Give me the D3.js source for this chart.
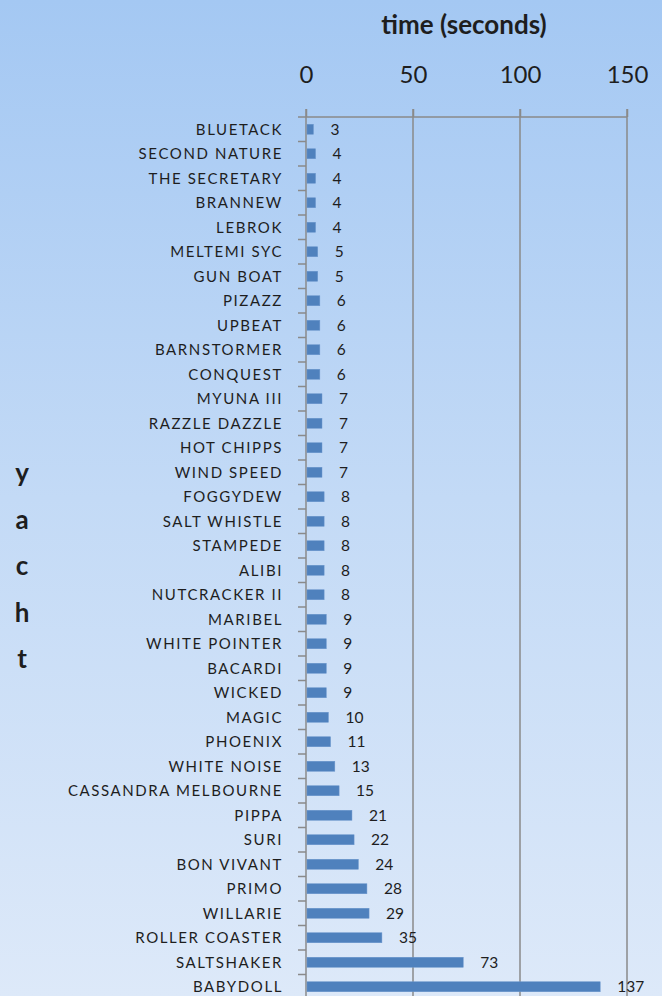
<!DOCTYPE html>
<html>
<head>
<meta charset="utf-8">
<script src="https://cdn.jsdelivr.net/npm/d3@7"></script>
<style>
  html, body { margin: 0; padding: 0; }
  svg { display: block; }
</style>
</head>
<body>
<svg id="chart"></svg>
<script>
// data
var yachts = ["BLUETACK", "SECOND NATURE", "THE SECRETARY", "BRANNEW", "LEBROK", "MELTEMI SYC",
  "GUN BOAT", "PIZAZZ", "UPBEAT", "BARNSTORMER", "CONQUEST", "MYUNA III", "RAZZLE DAZZLE",
  "HOT CHIPPS", "WIND SPEED", "FOGGYDEW", "SALT WHISTLE", "STAMPEDE", "ALIBI", "NUTCRACKER II",
  "MARIBEL", "WHITE POINTER", "BACARDI", "WICKED", "MAGIC", "PHOENIX", "WHITE NOISE",
  "CASSANDRA MELBOURNE", "PIPPA", "SURI", "BON VIVANT", "PRIMO", "WILLARIE", "ROLLER COASTER",
  "SALTSHAKER", "BABYDOLL"];
var times = [3, 4, 4, 4, 4, 5, 5, 6, 6, 6, 6, 7, 7, 7, 7, 8, 8, 8, 8, 8,
  9, 9, 9, 9, 10, 11, 13, 15, 21, 22, 24, 28, 29, 35, 73, 137];
var xTicks = [0, 50, 100, 150];
var xTitle = "time (seconds)";
var yTitle = "yacht";

var width = 662, height = 996;
var font = "Lato, 'Open Sans', sans-serif";
var ink = "#1e1e1e";
var gridCol = "#8a8a8a";

var svg = d3.select("#chart")
    .attr("width", width)
    .attr("height", height);

var grad = svg.append("defs").append("linearGradient")
    .attr("id", "bg")
    .attr("x1", 0).attr("y1", 0).attr("x2", 0).attr("y2", 1);
grad.append("stop").attr("offset", "0%").attr("stop-color", "#a4c8f3");
grad.append("stop").attr("offset", "50%").attr("stop-color", "#c3daf6");
grad.append("stop").attr("offset", "100%").attr("stop-color", "#dde9f9");

svg.append("rect")
    .attr("width", width)
    .attr("height", height)
    .attr("fill", "url(#bg)");

var x = d3.scaleLinear()
    .domain([0, 150])
    .range([306, 627]);

var y = d3.scaleBand()
    .domain(yachts)
    .range([117, 999]);

// grid lines (these double as the top axis ticks)
svg.append("g")
  .selectAll("line")
  .data(xTicks.slice(1))
  .enter().append("line")
    .attr("x1", d => x(d)).attr("x2", d => x(d))
    .attr("y1", 109).attr("y2", 999)
    .attr("stroke", gridCol)
    .attr("stroke-width", 1.5);

// top axis
var xAxis = svg.append("g")
    .attr("transform", "translate(0,117)")
    .call(d3.axisTop(x).tickValues(xTicks).tickSize(8).tickPadding(26));
xAxis.select(".domain").remove();
xAxis.selectAll(".tick line").attr("stroke", gridCol).attr("stroke-width", 1.5);
xAxis.selectAll(".tick text")
    .attr("fill", ink)
    .style("font-family", font)
    .style("font-size", "24px");

svg.append("line")
    .attr("x1", 298).attr("x2", x(150))
    .attr("y1", 117).attr("y2", 117)
    .attr("stroke", gridCol).attr("stroke-width", 1.5);

// left axis: line and ticks between categories
svg.append("line")
    .attr("x1", x(0)).attr("x2", x(0))
    .attr("y1", 109).attr("y2", 999)
    .attr("stroke", gridCol).attr("stroke-width", 1.5);

svg.append("g")
  .selectAll("line")
  .data(yachts)
  .enter().append("line")
    .attr("x1", 298).attr("x2", x(0))
    .attr("y1", d => y(d) + y.bandwidth()).attr("y2", d => y(d) + y.bandwidth())
    .attr("stroke", gridCol).attr("stroke-width", 1.5);

// bars
var barH = 10;
svg.append("g")
  .selectAll("rect")
  .data(yachts)
  .enter().append("rect")
    .attr("x", x(0) + 1)
    .attr("y", d => y(d) + y.bandwidth() / 2 - barH / 2)
    .attr("width", (d, i) => x(times[i]) - x(0))
    .attr("height", barH)
    .attr("fill", "#4f81bd")
    .attr("stroke", "#6a95cc")
    .attr("stroke-width", 0.5);

// value labels
svg.append("g")
  .selectAll("text")
  .data(yachts)
  .enter().append("text")
    .attr("x", (d, i) => x(times[i]) + 18)
    .attr("y", d => y(d) + y.bandwidth() / 2)
    .attr("dy", "0.36em")
    .attr("fill", ink)
    .style("font-family", font)
    .style("font-size", "15.5px")
    .text((d, i) => times[i]);

// category labels
svg.append("g")
  .selectAll("text")
  .data(yachts)
  .enter().append("text")
    .attr("x", 283)
    .attr("y", d => y(d) + y.bandwidth() / 2)
    .attr("dy", "0.36em")
    .attr("text-anchor", "end")
    .attr("fill", ink)
    .style("font-family", font)
    .style("font-size", "15px")
    .style("letter-spacing", "1.6px")
    .text(d => d);

// axis titles
svg.append("text")
    .attr("x", 464)
    .attr("y", 34)
    .attr("text-anchor", "middle")
    .attr("fill", ink)
    .style("font-family", font)
    .style("font-weight", "bold")
    .style("font-size", "26px")
    .text(xTitle);

svg.append("g")
  .selectAll("text")
  .data(yTitle.split(""))
  .enter().append("text")
    .attr("x", 22)
    .attr("y", (d, i) => 473 + i * 46.5)
    .attr("dy", "0.36em")
    .attr("text-anchor", "middle")
    .attr("fill", ink)
    .style("font-family", font)
    .style("font-weight", "bold")
    .style("font-size", "26px")
    .text(d => d);
</script>
</body>
</html>
